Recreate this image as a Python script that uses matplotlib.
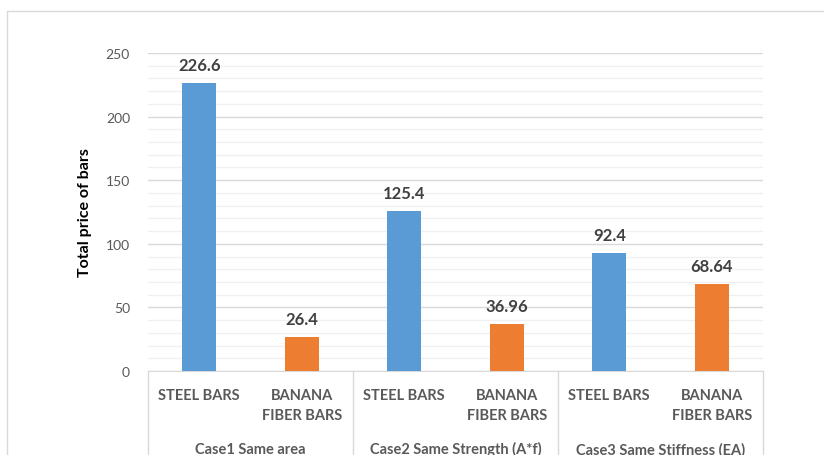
import numpy as np
import matplotlib.pyplot as plt
from matplotlib.patches import Rectangle

# Daten
categories = ['STEEL BARS', 'BANANA\nFIBER BARS'] * 3
groups = ['Case1 Same area', 'Case2 Same Strength (A*f)', 'Case3 Same Stiffness (EA)']
values = [226.6, 26.4, 125.4, 36.96, 92.4, 68.64]
value_labels = ['226.6', '26.4', '125.4', '36.96', '92.4', '68.64']
colors = ['#5B9BD5', '#ED7D31'] * 3

plt.rcParams['font.family'] = ['Lato', 'DejaVu Sans']

fig = plt.figure(figsize=(8.24, 4.56), dpi=100)
ax = fig.add_axes([148 / 824, 1 - 372 / 456, 615 / 824, 318 / 456])

# Rahmen des Diagramms
fig.patches.append(Rectangle((7 / 824, -0.1), 1.2, 1 - 12 / 456 + 0.1, transform=fig.transFigure,
                             fill=False, edgecolor='#d9d9d9', linewidth=1))

x = np.arange(len(values))
ax.bar(x, values, width=0.33, color=colors, zorder=3)
for xi, v, lab in zip(x, values, value_labels):
    ax.text(xi, v + 8, lab, ha='center', va='bottom', fontsize=12, fontweight='bold', color='#404040')

ax.set_xlim(-0.5, len(values) - 0.5)
ax.set_ylim(0, 250)
ax.set_yticks(np.arange(0, 251, 50))
ax.set_yticks(np.arange(0, 251, 10), minor=True)
ax.grid(axis='y', which='major', color='#d9d9d9', linewidth=1, zorder=0)
ax.grid(axis='y', which='minor', color='#f0f0f0', linewidth=1, zorder=0)
ax.tick_params(axis='y', which='both', length=0, labelsize=10, labelcolor='#595959', pad=13)

ax.set_xticks(x)
ax.set_xticklabels(categories, fontsize=10.5, fontweight='bold', color='#595959', linespacing=1.6, va='top')
ax.tick_params(axis='x', length=0, pad=12)

for s in ['top', 'right', 'left']:
    ax.spines[s].set_visible(False)
ax.spines['bottom'].set_color('#d9d9d9')

# Gruppenlinien und Gruppenbeschriftungen
for b in [0, 1 / 3, 2 / 3, 1]:
    ax.plot([b, b], [0, -0.35], transform=ax.transAxes, color='#d9d9d9', linewidth=1, clip_on=False)
for i, g in enumerate(groups):
    ax.text((i + 0.5) / 3, -0.245, g, transform=ax.transAxes, ha='center', va='center',
            fontsize=10.5, fontweight='bold', color='#595959')

ax.set_ylabel('Total price of bars', fontsize=11.5, fontweight='bold', color='#000000', labelpad=10)

fig.savefig('out.png', dpi=100)
